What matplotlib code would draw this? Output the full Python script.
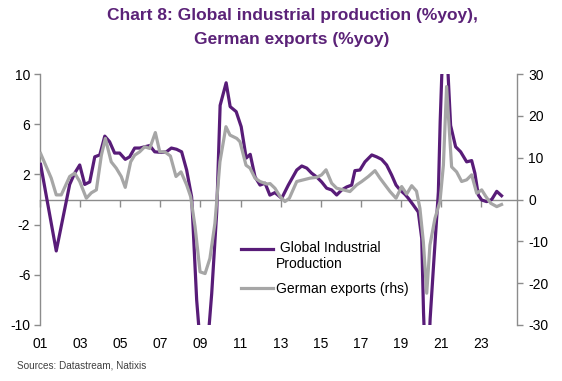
import matplotlib
matplotlib.use("Agg")
import matplotlib.pyplot as plt
import numpy as np
from matplotlib.legend_handler import HandlerLine2D

plt.rcParams['font.family'] = ['Liberation Sans', 'DejaVu Sans']
plt.rcParams['axes.unicode_minus'] = False

# ---- data (decimal years) ----
ip_t = [2001.03, 2001.81, 2002.48, 2002.73, 2002.98, 2003.23, 2003.48, 2003.73, 2003.98, 2004.23,
        2004.47, 2004.72, 2004.97, 2005.25, 2005.47, 2005.72, 2005.97, 2006.22, 2006.47, 2006.72,
        2007.05, 2007.30, 2007.55, 2007.81, 2008.06, 2008.31, 2008.56, 2008.81, 2009.06, 2009.31,
        2009.56, 2009.81, 2009.98, 2010.28, 2010.48, 2010.78, 2011.03, 2011.28, 2011.48, 2011.72,
        2011.97, 2012.22, 2012.46, 2012.71, 2013.05, 2013.38, 2013.80, 2014.05, 2014.30, 2014.54,
        2014.79, 2015.04, 2015.29, 2015.54, 2015.79, 2016.04, 2016.29, 2016.54, 2016.70, 2016.95,
        2017.20, 2017.54, 2017.78, 2018.03, 2018.28, 2018.53, 2018.75, 2018.95, 2019.20, 2019.36,
        2019.61, 2019.86, 2020.03, 2020.12, 2020.28, 2020.45, 2020.63, 2020.86, 2020.95, 2021.03,
        2021.22, 2021.47, 2021.72, 2021.97, 2022.27, 2022.52, 2022.68, 2022.85, 2023.02, 2023.27,
        2023.52, 2023.77, 2024.01]
ip_v = [2.8, -4.1, 1.2, 2.1, 2.75, 1.2, 1.4, 3.4, 3.55, 5.05,
        4.6, 3.7, 3.7, 3.2, 3.4, 4.1, 4.1, 4.2, 4.3, 3.8,
        3.75, 3.8, 4.1, 4.0, 3.8, 2.35, 0.2, -8.0, -13.0, -12.5,
        -7.5, -1.0, 7.5, 9.3, 7.4, 7.0, 5.8, 3.3, 3.6, 1.8,
        1.15, 1.3, 0.35, 0.55, 0.1, 1.15, 2.35, 2.67, 2.5, 2.1,
        1.8, 1.4, 0.9, 0.76, 0.36, 0.76, 1.0, 1.15, 2.3, 2.35,
        3.0, 3.55, 3.4, 3.2, 2.75, 1.95, 1.15, 0.76, 0.4, 0.1,
        -0.44, -1.0, -3.1, -9.0, -16.0, -9.5, -5.0, 0.6, 6.2, 9.9,
        14.0, 5.9, 4.2, 3.8, 3.0, 3.1, 2.1, 0.36, -0.04, -0.17,
        0.0, 0.65, 0.3]

gx_t = [2001.03, 2001.56, 2001.81, 2002.06, 2002.48, 2002.73, 2002.98, 2003.31, 2003.56, 2003.81,
        2004.06, 2004.26, 2004.55, 2004.80, 2005.05, 2005.25, 2005.52, 2005.72, 2005.97, 2006.22,
        2006.47, 2006.75, 2006.97, 2007.22, 2007.50, 2007.78, 2008.03, 2008.31, 2008.51, 2008.73,
        2008.98, 2009.23, 2009.47, 2009.72, 2009.97, 2010.27, 2010.47, 2010.81, 2010.97, 2011.27,
        2011.47, 2011.72, 2011.97, 2012.30, 2012.47, 2012.71, 2012.96, 2013.21, 2013.43, 2013.80,
        2014.13, 2014.46, 2014.79, 2015.04, 2015.26, 2015.54, 2015.79, 2016.12, 2016.45, 2016.79,
        2017.04, 2017.37, 2017.70, 2017.95, 2018.20, 2018.45, 2018.75, 2019.03, 2019.28, 2019.53,
        2019.77, 2019.94, 2020.11, 2020.28, 2020.44, 2020.69, 2020.94, 2021.11, 2021.27, 2021.52,
        2021.77, 2022.02, 2022.27, 2022.52, 2022.77, 2023.02, 2023.23, 2023.47, 2023.77, 2024.01]
gx_v = [11.0, 5.1, 1.1, 1.1, 5.5, 6.3, 4.3, 0.3, 1.6, 2.3,
        10.6, 14.6, 9.0, 7.5, 5.5, 2.9, 9.0, 10.6, 11.4, 12.6,
        12.2, 16.0, 11.4, 11.4, 10.4, 5.5, 6.6, 3.5, 0.7, -6.5,
        -17.3, -17.7, -14.1, -5.7, 9.0, 17.4, 15.4, 14.6, 13.8, 8.2,
        7.5, 5.1, 4.3, 3.7, 3.8, 2.7, 0.8, -0.5, 0.3, 4.3,
        4.7, 5.1, 5.3, 5.9, 7.1, 3.9, 2.7, 2.3, 1.9, 3.5,
        4.3, 5.5, 6.9, 5.1, 3.5, 1.9, 0.3, 3.1, 1.3, 3.3,
        2.0, -2.1, -10.1, -22.4, -10.9, -4.5, -0.5, 8.2, 27.0, 7.8,
        6.6, 4.3, 4.7, 5.9, 1.5, 2.3, 0.7, -0.9, -1.7, -1.2]

year_ticks = list(range(2001, 2024, 2))
year_labels = ['01', '03', '05', '07', '09', '11', '13', '15', '17', '19', '21', '23']
left_ticks = [-10, -6, -2, 2, 6, 10]
right_ticks = [-30, -20, -10, 0, 10, 20, 30]

title = "Chart 8: Global industrial production (%yoy),\nGerman exports (%yoy)"
ip_label = " Global Industrial\nProduction"
gx_label = "German exports (rhs)"
source = "Sources: Datastream, Natixis"

# ---- style ----
PURPLE = '#581c78'
GREY = '#a6a6a6'
AXC = '#8c8c8c'
W, H = 562, 381

fig = plt.figure(figsize=(W / 100, H / 100), dpi=100)
ax = fig.add_axes([40 / W, 56 / H, 477 / W, 251 / H])
ax2 = ax.twinx()

l1, = ax.plot(ip_t, ip_v, color=PURPLE, lw=2.3, solid_joinstyle='round', zorder=3)
l2, = ax2.plot(gx_t, gx_v, color=GREY, lw=2.3, solid_joinstyle='round', zorder=3)

ax.set_xlim(2001, 2024.78)
ax.set_ylim(-10, 10)
ax2.set_ylim(-30, 30)

ax.set_yticks(left_ticks)
ax2.set_yticks(right_ticks)

for a in (ax, ax2):
    a.spines['top'].set_visible(False)
    for s in a.spines.values():
        s.set_color(AXC)
        s.set_linewidth(1.0)
ax.spines['right'].set_visible(False)
ax2.spines['left'].set_visible(False)
ax2.spines['bottom'].set_visible(False)
ax.spines['bottom'].set_position(('data', 0))

ax.tick_params(axis='y', direction='out', length=4, width=1, color=AXC,
               labelsize=10, pad=3, labelcolor='black')
ax2.tick_params(axis='y', direction='out', length=4, width=1, color=AXC,
                labelsize=10, pad=4, labelcolor='black')
ax.set_xticks(year_ticks)
ax.tick_params(axis='x', direction='out', length=5, width=1, color=AXC, labelbottom=False)

sec = ax.secondary_xaxis('bottom')
sec.set_xticks(year_ticks)
sec.set_xticklabels(year_labels)
sec.tick_params(axis='x', length=0, pad=9, labelsize=10, labelcolor='black')
sec.spines['bottom'].set_visible(False)


class HandlerShift(HandlerLine2D):
    def __init__(self, dy=0, **kw):
        super().__init__(**kw)
        self.dy = dy

    def create_artists(self, legend, orig_handle, xdescent, ydescent, width, height, fontsize, trans):
        arts = super().create_artists(legend, orig_handle, xdescent, ydescent, width, height, fontsize, trans)
        for a in arts:
            a.set_ydata(np.asarray(a.get_ydata(), dtype=float) + self.dy)
        return arts


leg = ax2.legend([l1, l2], [ip_label, gx_label], loc='upper left',
                 bbox_to_anchor=(241 / W, 1 - 241 / H), bbox_transform=fig.transFigure,
                 frameon=False, fontsize=10, handlelength=2.3, handletextpad=0.2,
                 labelspacing=0.75, borderpad=0, borderaxespad=0,
                 handler_map={l1: HandlerShift(dy=5.5)})

fig.text(292 / W, 1 - 8 / H, title, ha='center', va='top', color='#5b2278',
         fontsize=12.5, fontweight='bold', linespacing=1.75)
fig.text(17 / W, 1 - 366 / H, source, ha='left', va='center', color='#404040', fontsize=7.2)

fig.savefig('out.png', dpi=100)
